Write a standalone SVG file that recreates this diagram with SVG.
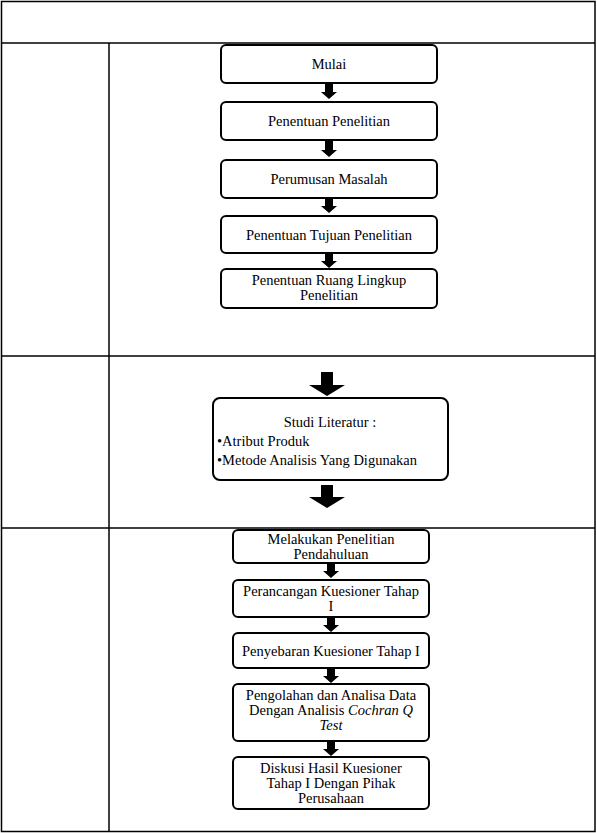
<svg xmlns="http://www.w3.org/2000/svg" width="597" height="833" viewBox="0 0 597 833">
<style>
.tbl{fill:none;stroke:#000;stroke-width:1.5}
.box{fill:#fff;stroke:#000;stroke-width:2}
.arr{fill:#000}
text{font-family:"Liberation Serif","Times New Roman",serif;font-size:14.5px;fill:#000}
.c{text-anchor:middle}
</style>
<rect width="597" height="833" fill="#fff"/>
<g id="table">
<rect class="tbl" x="1.5" y="1.5" width="593.5" height="830"/>
<line class="tbl" x1="1.5" y1="43" x2="595" y2="43"/>
<line class="tbl" x1="109" y1="43" x2="109" y2="831.5"/>
<line class="tbl" x1="1.5" y1="356" x2="595" y2="356"/>
<line class="tbl" x1="1.5" y1="528" x2="595" y2="528"/>
</g>
<g id="connectors">
<path class="arr" d="M325,84H333V92H337L329,99L321,92H325Z"/>
<path class="arr" d="M325,141H333V150H337L329,157L321,150H325Z"/>
<path class="arr" d="M325,199H333V206H337L329,213L321,206H325Z"/>
<path class="arr" d="M325,254H333V261H337L329,268L321,261H325Z"/>
<path class="arr" d="M321,372H333V385H345L327,396L309,385H321Z"/>
<path class="arr" d="M321,485H333V497H345L327,508L309,497H321Z"/>
<path class="arr" d="M327,564H335V571H339L331,578L323,571H327Z"/>
<path class="arr" d="M327,618H335V625H339L331,632L323,625H327Z"/>
<path class="arr" d="M327,669H335V676H339L331,683L323,676H327Z"/>
<path class="arr" d="M327,742H335V749H339L331,756L323,749H327Z"/>
</g>
<g id="n1"><rect class="box" x="221" y="45" width="216" height="38" rx="5"/><text class="c" x="329" y="69">Mulai</text></g>
<g id="n2"><rect class="box" x="221" y="102" width="216" height="38" rx="5"/><text class="c" x="329" y="126">Penentuan Penelitian</text></g>
<g id="n3"><rect class="box" x="221" y="160" width="216" height="38" rx="5"/><text class="c" x="329" y="184">Perumusan Masalah</text></g>
<g id="n4"><rect class="box" x="221" y="216" width="216" height="37" rx="5"/><text class="c" x="329" y="240">Penentuan Tujuan Penelitian</text></g>
<g id="n5"><rect class="box" x="221" y="269" width="216" height="39" rx="5"/><text class="c" x="329" y="285">Penentuan Ruang Lingkup</text><text class="c" x="329" y="300">Penelitian</text></g>
<g id="n6"><rect class="box" x="213" y="398" width="235" height="82" rx="7"/><text class="c" x="330" y="427">Studi Literatur :</text><text x="217" y="446">•Atribut Produk</text><text x="217" y="465">•Metode Analisis Yang Digunakan</text></g>
<g id="n7"><rect class="box" x="233" y="530" width="196" height="33" rx="5"/><text class="c" x="331" y="544">Melakukan Penelitian</text><text class="c" x="331" y="559">Pendahuluan</text></g>
<g id="n8"><rect class="box" x="233" y="580" width="196" height="37" rx="5"/><text class="c" x="331" y="596">Perancangan Kuesioner Tahap</text><text class="c" x="331" y="611">I</text></g>
<g id="n9"><rect class="box" x="233" y="633" width="196" height="35" rx="5"/><text class="c" x="331" y="656">Penyebaran Kuesioner Tahap I</text></g>
<g id="n10"><rect class="box" x="233" y="684" width="196" height="57" rx="5"/><text class="c" x="331" y="700">Pengolahan dan Analisa Data</text><text class="c" x="331" y="715">Dengan Analisis <tspan font-style="italic">Cochran Q</tspan></text><text class="c" x="331" y="730" font-style="italic">Test</text></g>
<g id="n11"><rect class="box" x="233" y="757" width="196" height="52" rx="5"/><text class="c" x="331" y="773">Diskusi Hasil Kuesioner</text><text class="c" x="331" y="788">Tahap I Dengan Pihak</text><text class="c" x="331" y="803">Perusahaan</text></g>
</svg>
